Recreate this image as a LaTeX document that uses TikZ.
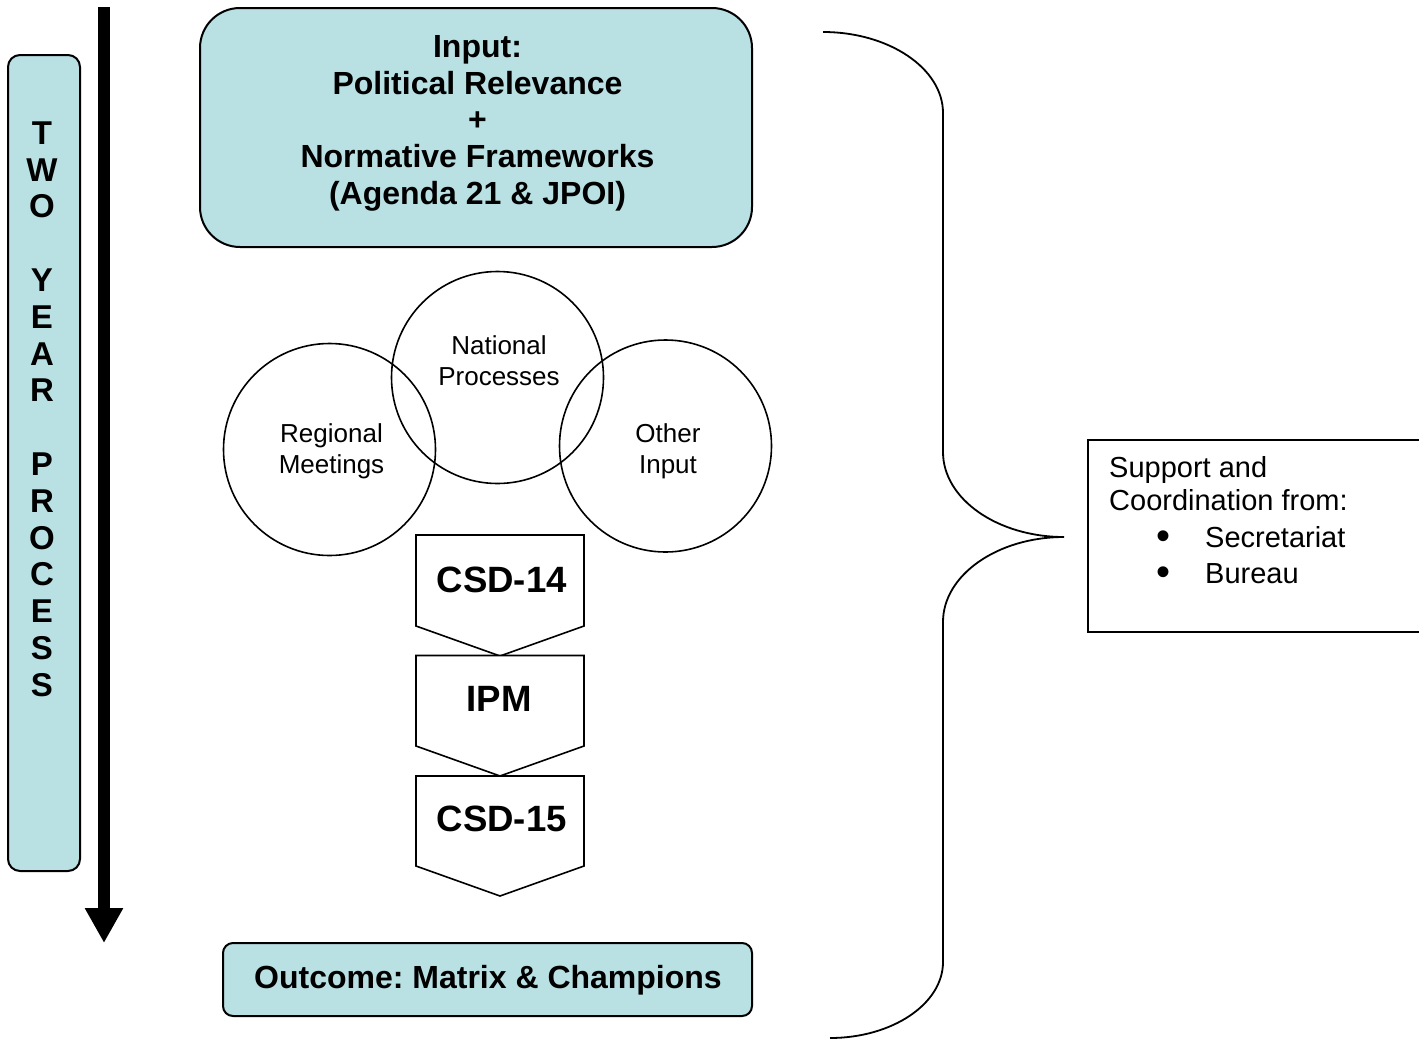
\documentclass[tikz,border=0pt]{standalone}
\usepackage{fontspec}
\setmainfont{Liberation Sans}
\usetikzlibrary{arrows.meta}
\definecolor{boxfill}{RGB}{185,224,227}
\frenchspacing
\newcommand{\bigbul}{\makebox[0pt]{\fontsize{40}{33}\selectfont\raisebox{-2pt}{•}}}
\begin{document}
\begin{tikzpicture}[x=1pt,y=-1pt,
  tealbox/.style={draw=black, line width=2pt, fill=boxfill, inner sep=0pt},
  circ/.style={circle, draw=black, line width=1.6pt, minimum size=212pt, inner sep=0pt},
  chev/.style={draw=black, line width=1.6pt, fill=white, line join=miter},
  boldtxt/.style={font=\bfseries\fontsize{32}{36.6}\selectfont, align=center, inner sep=0pt},
  regtxt/.style={font=\fontsize{26}{31}\selectfont, align=center, inner sep=0pt},
  chevtxt/.style={font=\bfseries\fontsize{36.6}{42}\selectfont, inner sep=0pt},
  suptxt/.style={font=\fontsize{29}{33}\selectfont, align=left, inner sep=0pt},
  bracepath/.style={draw=black, line width=1.8pt},
]
\useasboundingbox (0,0) rectangle (1419,1039);

% left vertical box
\node[tealbox, rounded corners=12pt, minimum width=72pt, minimum height=816pt] (yearbox) at (44,463) {};
\node[boldtxt, font=\bfseries\fontsize{33}{36.8}\selectfont, anchor=north] (yeartxt) at (42,121.4)
  {T\\W\\O\\\mbox{}\\Y\\E\\A\\R\\\mbox{}\\P\\R\\O\\C\\E\\S\\S};

% time arrow
\coordinate (arrtop) at (104,7);
\coordinate (arrtip) at (104,943);
\draw[line width=12pt, -{Triangle[width=36pt,length=35pt]}] (arrtop) -- (arrtip);

% input box
\node[tealbox, rounded corners=40pt, minimum width=552pt, minimum height=239pt] (inputbox) at (476,127.5) {};
\node[boldtxt, anchor=north] (inputtxt) at (477.5,35.5)
  {Input:\\Political Relevance\\+\\Normative Frameworks\\(Agenda 21 \& JPOI)};

% circles
\node[circ] (regional) at (329.5,449.5) {};
\node[circ] (national) at (497.5,377.5) {};
\node[circ] (other) at (665.5,446) {};
\node[regtxt, anchor=north] (regionaltxt) at (331.5,423.3) {Regional\\Meetings};
\node[regtxt, anchor=north] (nationaltxt) at (499,335) {National\\Processes};
\node[regtxt, anchor=north] (othertxt) at (668,423) {Other\\Input};

% chevrons
\coordinate (c1) at (416,535);
\coordinate (c2) at (416,655.5);
\coordinate (c3) at (416,776);
\draw[chev] (c1) -- ++(168,0) -- ++(0,91) -- ++(-84,30) -- ++(-84,-30) -- cycle;
\draw[chev] (c2) -- ++(168,0) -- ++(0,90.5) -- ++(-84,30) -- ++(-84,-30) -- cycle;
\draw[chev] (c3) -- ++(168,0) -- ++(0,90) -- ++(-84,30) -- ++(-84,-30) -- cycle;
\node[chevtxt, anchor=base] (csd14) at (501.7,592) {CSD-14};
\node[chevtxt, anchor=base] (ipm) at (499.3,711.7) {IPM};
\node[chevtxt, anchor=base] (csd15) at (501.7,831.7) {CSD-15};

% outcome box
\node[tealbox, rounded corners=10pt, minimum width=529pt, minimum height=73pt] (outbox) at (487.5,979.5) {};
\node[boldtxt, anchor=base] (outtxt) at (488,988.5) {Outcome: Matrix \& Champions};

% brace
\coordinate (brtop) at (823,32);
\coordinate (brtip) at (1064,537);
\coordinate (brbot) at (830,1038);
\draw[bracepath] (brtop) .. controls (889,32) and (943,68.5) .. (943,113) -- (943,452)
  .. controls (943,499) and (997.5,537) .. (brtip)
  .. controls (997.5,537) and (943,575) .. (943,622) -- (943,962)
  .. controls (943,1004) and (892,1038) .. (brbot);

% support box
\node[draw=black, line width=2pt, fill=white, minimum width=345pt, minimum height=192pt, inner sep=0pt, anchor=north west] (supbox) at (1087,439) {};
\node[suptxt, anchor=north west] (suptext) at (1109,456.5)
  {Support and\\Coordination from:\\[4pt]%
   \hspace*{54pt}\bigbul\hspace*{42pt}Secretariat\\[3pt]%
   \hspace*{54pt}\bigbul\hspace*{42pt}Bureau};
\end{tikzpicture}
\end{document}
